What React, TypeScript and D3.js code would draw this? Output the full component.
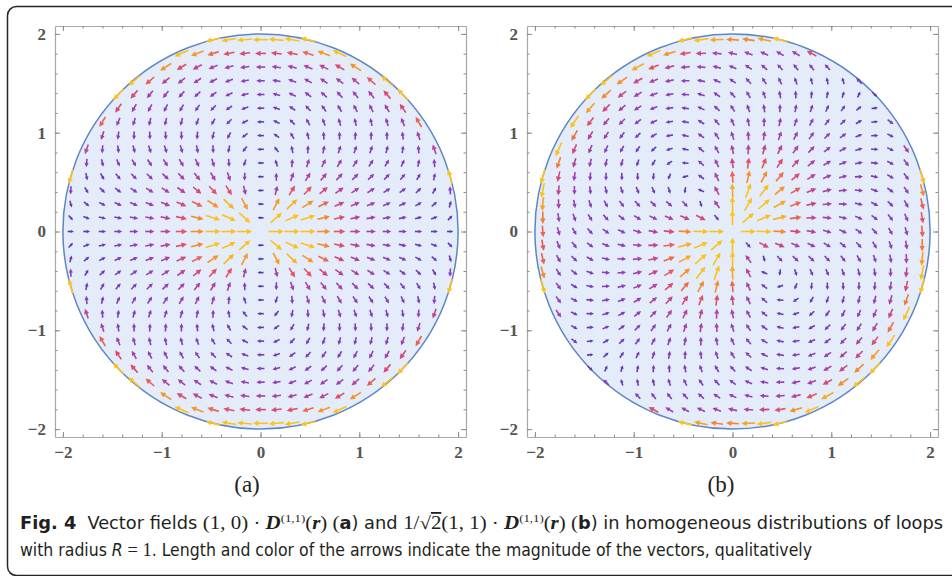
import React, { useEffect, useRef } from 'react';
import * as d3 from 'd3';

// two panels: field = n · D(1,1)(r) for loops of radius R, shown on the disc |r| < 2R
const panelLabels = ['(a)', '(b)'];
const fieldDirections = [[1, 0], [Math.SQRT1_2, Math.SQRT1_2]];
const loopRadius = 1;
const discRadius = 2;
const plotDomain = [-2.08, 2.08];
const gridCountX = 27;
const gridCountY = 31;
const tickValues = [-2, -1, 0, 1, 2];
const tickLabels = ['\u22122', '\u22121', '0', '1', '2'];
const minorTickValues = d3.range(-10, 11).map(i => i / 5);

// colour / length by vector magnitude (qualitative)
const magnitudeStops = [0.2, 1.1, 1.75, 2.2, 2.8, 3.7];
const colorStops = ['#4a37b6', '#8a3dbf', '#b4439f', '#df4d6c', '#f5862d', '#fcc11c'];

const captionLine1 = [
  { t: 'Fig. 4', b: true },
  { t: '  Vector fields ' },
  { t: '(1, 0) \u00b7 ', m: true },
  { t: 'D', m: true, b: true, i: true },
  { t: '(1,1)', m: true, sup: true },
  { t: '(', m: true },
  { t: 'r', m: true, b: true, i: true },
  { t: ') (', m: true },
  { t: 'a', b: true },
  { t: ') and ' },
  { t: '1/\u221a', m: true },
  { t: '2', m: true, over: true },
  { t: '(1, 1) \u00b7 ', m: true },
  { t: 'D', m: true, b: true, i: true },
  { t: '(1,1)', m: true, sup: true },
  { t: '(', m: true },
  { t: 'r', m: true, b: true, i: true },
  { t: ') (', m: true },
  { t: 'b', b: true },
  { t: ') in homogeneous distributions of loops' },
];
const captionLine2 = [
  { t: 'with radius ' },
  { t: 'R', i: true },
  { t: ' = 1', m: true },
  { t: '. Length and color of the arrows indicate the magnitude of the vectors, qualitatively' },
];

const sansCond = '"Liberation Sans Narrow", "DejaVu Sans Condensed", "Roboto", sans-serif';
const serif = '"Liberation Serif", "DejaVu Serif", serif';

function fieldAt(px, py, n) {
  const d = Math.hypot(px, py);
  const h = Math.sqrt(loopRadius * loopRadius - (d * d) / 4);
  const A = (2 * h) / d;
  const B = -d / (2 * h);
  const rx = px / d, ry = py / d;
  const p = n[0] * rx + n[1] * ry;
  return [A * p * rx + B * (n[0] - p * rx), A * p * ry + B * (n[1] - p * ry)];
}

function addCaption(svg, segs, x, y, len) {
  const text = svg.append('text')
    .attr('x', x)
    .attr('y', y)
    .attr('font-family', sansCond)
    .attr('font-size', 17)
    .attr('fill', '#231f20')
    .attr('textLength', len)
    .attr('lengthAdjust', 'spacingAndGlyphs');
  let raised = false;
  segs.forEach(s => {
    const ts = text.append('tspan').text(s.t).attr('xml:space', 'preserve');
    if (s.m) ts.attr('font-family', serif).attr('font-size', 18);
    if (s.b) ts.attr('font-weight', 'bold');
    if (s.i) ts.attr('font-style', 'italic');
    if (s.over) ts.style('text-decoration', 'overline');
    if (s.sup) {
      ts.attr('font-size', 11).attr('dy', -7);
      raised = true;
    } else if (raised) {
      ts.attr('dy', 7);
      raised = false;
    }
  });
}

function App() {
  const svgRef = useRef(null);

  useEffect(() => {
    const svg = d3.select(svgRef.current);
    svg.selectAll('*').remove();

    svg.append('rect')
      .attr('x', 7.5).attr('y', 6.5)
      .attr('width', 970).attr('height', 569)
      .attr('rx', 9)
      .attr('fill', 'none')
      .attr('stroke', '#262626')
      .attr('stroke-width', 1.5);

    const panelLefts = [55, 527];
    const frameTop = 26;
    const frameSize = 411;
    const labelCenters = [247, 721];

    const gx = d3.range(gridCountX).map(i => plotDomain[0] + (i * (plotDomain[1] - plotDomain[0])) / (gridCountX - 1));
    const gy = d3.range(gridCountY).map(i => plotDomain[0] + (i * (plotDomain[1] - plotDomain[0])) / (gridCountY - 1));

    const color = d3.scaleLinear().domain(magnitudeStops).range(colorStops).clamp(true);
    const lenScale = d3.scaleLinear().domain([0.2, 3.7]).range([6, 15]).clamp(true);

    fieldDirections.forEach((n, pi) => {
      const left = panelLefts[pi];
      const x = d3.scaleLinear().domain(plotDomain).range([left, left + frameSize]);
      const y = d3.scaleLinear().domain(plotDomain).range([frameTop + frameSize, frameTop]);
      const g = svg.append('g');

      g.append('circle')
        .attr('cx', x(0))
        .attr('cy', y(0))
        .attr('r', x(discRadius) - x(0))
        .attr('fill', '#e3ecf8')
        .attr('stroke', '#5f86c4')
        .attr('stroke-width', 1.5);

      const arrows = [];
      gx.forEach(px => {
        gy.forEach(py => {
          const d = Math.hypot(px, py);
          if (d < 1e-6 || d >= discRadius) return;
          const v = fieldAt(px, py, n);
          const mag = Math.hypot(v[0], v[1]);
          const ux = v[0] / mag, uy = -v[1] / mag;
          const len = lenScale(mag);
          const cx = x(px), cy = y(py);
          arrows.push({ cx, cy, ux, uy, len, c: color(mag) });
        });
      });

      const heads = a => Math.min(5.4, a.len * 0.5);

      g.selectAll('.shaft')
        .data(arrows)
        .join('line')
        .attr('class', 'shaft')
        .attr('x1', a => a.cx - (a.ux * a.len) / 2)
        .attr('y1', a => a.cy - (a.uy * a.len) / 2)
        .attr('x2', a => a.cx + a.ux * (a.len / 2 - heads(a) * 0.8))
        .attr('y2', a => a.cy + a.uy * (a.len / 2 - heads(a) * 0.8))
        .attr('stroke', a => a.c)
        .attr('stroke-width', 1.6);

      g.selectAll('.head')
        .data(arrows)
        .join('path')
        .attr('class', 'head')
        .attr('d', a => {
          const hl = heads(a);
          const hw = hl * 0.5;
          const tx = a.cx + (a.ux * a.len) / 2, ty = a.cy + (a.uy * a.len) / 2;
          const bx = tx - a.ux * hl, by = ty - a.uy * hl;
          return `M${tx},${ty}L${bx - a.uy * hw},${by + a.ux * hw}L${bx + a.uy * hw},${by - a.ux * hw}Z`;
        })
        .attr('fill', a => a.c);

      // frame with inward ticks on all sides
      const right = left + frameSize;
      const bottom = frameTop + frameSize;
      const sides = [
        { axis: d3.axisBottom(x), tr: `translate(0,${bottom})`, labels: true },
        { axis: d3.axisTop(x), tr: `translate(0,${frameTop})`, labels: false },
        { axis: d3.axisLeft(y), tr: `translate(${left},0)`, labels: true },
        { axis: d3.axisRight(y), tr: `translate(${right},0)`, labels: false },
      ];
      sides.forEach(s => {
        const minor = g.append('g')
          .attr('transform', s.tr)
          .call(s.axis.tickValues(minorTickValues).tickSizeInner(-2.5).tickSizeOuter(0).tickFormat(() => ''));
        minor.select('.domain').attr('stroke', '#a8a8a8').attr('stroke-width', 1.2);
        minor.selectAll('line').attr('stroke', '#8a8a8a');

        const major = g.append('g')
          .attr('transform', s.tr)
          .call(s.axis.tickValues(tickValues).tickSizeInner(-5).tickSizeOuter(0).tickPadding(9)
            .tickFormat((dv, k) => (s.labels ? tickLabels[k] : '')));
        major.select('.domain').remove();
        major.selectAll('line').attr('stroke', '#8a8a8a');
        major.selectAll('text')
          .attr('font-family', serif)
          .attr('font-weight', 'bold')
          .attr('font-size', 17)
          .attr('fill', '#555');
      });

      svg.append('text')
        .attr('x', labelCenters[pi])
        .attr('y', 492)
        .attr('text-anchor', 'middle')
        .attr('font-family', serif)
        .attr('font-size', 23)
        .attr('fill', '#222')
        .text(panelLabels[pi]);
    });

    addCaption(svg, captionLine1, 20, 529, 923);
    addCaption(svg, captionLine2, 20, 556, 792);
  }, []);

  return (
    <svg
      ref={svgRef}
      width={952}
      height={576}
      style={{ position: 'absolute', left: 0, top: 0, background: '#fff' }}
    />
  );
}

export default App;
